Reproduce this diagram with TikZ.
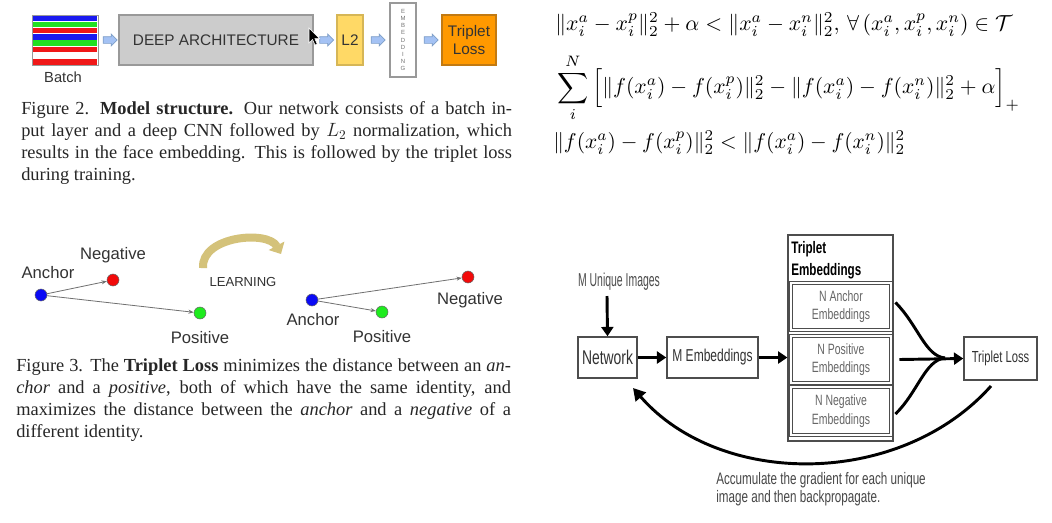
\documentclass[tikz,border=0pt]{standalone}
\usepackage[no-math]{fontspec}
\usepackage{graphicx}
\setmainfont{Liberation Serif}
\newfontfamily\arialf{Liberation Sans}
\newfontfamily\narrowf[FakeStretch=0.7]{Liberation Sans}
\newfontfamily\vnarrowf[FakeStretch=0.56]{Liberation Sans}
\usetikzlibrary{shapes.arrows,arrows.meta,calc}
\definecolor{txt}{HTML}{333333}
\definecolor{sb}{HTML}{1A1AF0}
\definecolor{sg}{HTML}{22E022}
\definecolor{sr}{HTML}{F01818}
\definecolor{arrowfill}{HTML}{A4C2F4}
\definecolor{arrowborder}{HTML}{7F9FC8}
\definecolor{deepfill}{HTML}{CCCCCC}
\definecolor{deepborder}{HTML}{999999}
\definecolor{lfill}{HTML}{FFD966}
\definecolor{lborder}{HTML}{D6B656}
\definecolor{ofill}{HTML}{FF9900}
\definecolor{oborder}{HTML}{C27A12}
\definecolor{learncol}{HTML}{D4C27A}
\definecolor{arrgray}{HTML}{707070}
\definecolor{boxgray}{HTML}{4D4D4D}
\definecolor{innertxt}{HTML}{666666}
\definecolor{dblue}{HTML}{0A0AF5}
\definecolor{dred}{HTML}{F20A0A}
\definecolor{dgreen}{HTML}{1EEB1E}
\begin{document}
\begin{tikzpicture}[x=0.75pt,y=-0.75pt,
  blockarr/.style={single arrow, draw=arrowborder, fill=arrowfill,
    minimum height=10.5pt, single arrow head extend=2pt, inner sep=0pt, line width=0.5pt},
  topbox/.style={draw, rectangle, line width=0.8pt, inner sep=0pt, align=center,
    font=\arialf\fontsize{11.5}{13.5}\selectfont, text=txt},
  dot/.style={circle, minimum size=9pt, inner sep=0pt, draw=black!60, line width=0.4pt},
  lbl/.style={font=\arialf\fontsize{12.5}{14}\selectfont, text=txt, inner sep=0pt},
  thinarr/.style={draw=arrgray, line width=0.6pt, -{Stealth[length=4pt,width=3pt]}},
  rbox/.style={draw=boxgray, line width=1.1pt, inner sep=0pt, rectangle, align=center, text=txt},
  dbox/.style={draw=boxgray, double=white, double distance=0.9pt, line width=0.7pt,
    inner sep=0pt, rectangle, align=center, text=innertxt,
    font=\narrowf\fontsize{11.2}{14}\selectfont, minimum width=75pt},
  bigarr/.style={line width=2.2pt, -{Triangle[length=7pt,width=9pt]}},
  caption/.style={anchor=north west, inner sep=0pt, text width=368pt, align=justify,
    font=\fontsize{13.8}{16.5}\selectfont, text=black!85}
]
\fill[white] (0,0) rectangle (1052,522);
\useasboundingbox (0,0) rectangle (1052,522);

% ---------------- Figure 2 ----------------
\foreach \c [count=\i from 0] in {sb,sg,sr,sb,sg,sr,white,sr}
  \fill[\c] (33,{15.3+\i*6.25}) rectangle (97,{15.3+\i*6.25+5.6});
\node[draw=deepborder, line width=0.6pt, minimum width=49.5pt, minimum height=37.5pt, inner sep=0pt] (batch) at (65,40) {};
\node[lbl, font=\arialf\fontsize{11}{13}\selectfont] (batchlbl) at (63,77) {Batch};
\node[topbox, draw=deepborder, fill=deepfill, minimum width=145.5pt, minimum height=37.5pt] (deep) at (216,40) {DEEP ARCHITECTURE};
\node[topbox, draw=lborder, fill=lfill, minimum width=19.5pt, minimum height=37.5pt] (l2) at (350,40) {L2};
\node[topbox, draw=deepborder, fill=white, minimum width=19.5pt, minimum height=55.5pt,
  font=\arialf\fontsize{4.5}{5.4}\selectfont, text=black!55] (emb) at (403,40) {E\\M\\B\\E\\D\\D\\I\\N\\G};
\node[topbox, draw=oborder, fill=ofill, minimum width=40.5pt, minimum height=37.5pt] (tl) at (469,40) {Triplet\\Loss};
\node[blockarr] (a1) at (108.5,40) {\rule{0pt}{4.5pt}};
\node[blockarr] (a2) at (325,40) {\rule{0pt}{4.5pt}};
\node[blockarr] (a3) at (376.5,40) {\rule{0pt}{4.5pt}};
\node[blockarr] (a4) at (429.5,40) {\rule{0pt}{4.5pt}};
% mouse pointer
\filldraw[fill=black, draw=white, line width=0.4pt] (309,28) -- (309,43) -- (312.5,39.5) -- (315,45) -- (317.2,44) -- (314.8,38.6) -- (319.5,38.6) -- cycle;

\node[caption] (cap2) at (21,101) {Figure 2. \textbf{Model structure.} Our network consists of a batch in-\linebreak
put layer and a deep CNN followed by $L_2$ normalization, which\linebreak
results in the face embedding. This is followed by the triplet loss\linebreak
during training.};

% ---------------- Equations ----------------
\node[anchor=west, inner sep=0pt] (eq1) at (555,25)
  {\resizebox{343pt}{!}{$\|x_i^a-x_i^p\|_2^2+\alpha<\|x_i^a-x_i^n\|_2^2,\,\forall\,(x_i^a,x_i^p,x_i^n)\in\mathcal{T}$}};
\node[anchor=west, inner sep=0pt] (eq2) at (557,88)
  {\resizebox{347pt}{!}{$\displaystyle\sum_i^N\Big[\|f(x_i^a)-f(x_i^p)\|_2^2-\|f(x_i^a)-f(x_i^n)\|_2^2+\alpha\Big]_+$}};
\node[anchor=west, inner sep=0pt] (eq3) at (553,143)
  {\resizebox{264pt}{!}{$\|f(x_i^a)-f(x_i^p)\|_2^2<\|f(x_i^a)-f(x_i^n)\|_2^2$}};

% ---------------- Figure 3 ----------------
\node[dot, fill=dblue] (an1) at (41,295) {};
\node[dot, fill=dred] (ne1) at (113,280) {};
\node[dot, fill=dgreen] (po1) at (200,313) {};
\node[lbl] (an1l) at (48,273) {Anchor};
\node[lbl] (ne1l) at (113,255) {Negative};
\node[lbl] (po1l) at (200,338) {Positive};
\draw[thinarr] (an1) -- (ne1);
\draw[thinarr] (an1) -- (po1);

\coordinate (ls) at (203,268);
\coordinate (le) at (281,254);
\draw[learncol, line width=6pt, -{Triangle[length=7pt,width=13pt]}] (ls) .. controls (201,236) and (268,230) .. (le);
\node[lbl, font=\arialf\fontsize{9.8}{12}\selectfont] (learn) at (243,282) {LEARNING};

\node[dot, fill=dblue] (an2) at (312,300) {};
\node[dot, fill=dgreen] (po2) at (382,312) {};
\node[dot, fill=dred] (ne2) at (468,277) {};
\node[lbl] (an2l) at (313,320) {Anchor};
\node[lbl] (po2l) at (382,337) {Positive};
\node[lbl] (ne2l) at (470,300) {Negative};
\draw[thinarr] (an2) -- (ne2);
\draw[thinarr] (an2) -- (po2);

\node[caption, text width=371pt] (cap3) at (16,358) {Figure 3. The \textbf{Triplet Loss} minimizes the distance between an \textit{an-}\linebreak
\textit{chor} and a \textit{positive}, both of which have the same identity, and\linebreak
maximizes the distance between the \textit{anchor} and a \textit{negative} of a\linebreak
different identity.};

% ---------------- Right diagram ----------------
\node[inner sep=0pt, text=black!70, font=\vnarrowf\fontsize{14}{16}\selectfont] (mui) at (619,282) {M Unique Images};
\node[rbox, minimum width=44.25pt, minimum height=30.75pt, font=\narrowf\fontsize{14.9}{16}\selectfont] (net) at (607.5,357.5) {Network};
\node[rbox, minimum width=68.25pt, minimum height=30.75pt, font=\narrowf\fontsize{12.9}{15}\selectfont] (memb) at (712.5,357.5) {M Embeddings};
\node[rbox, line width=0.9pt, minimum width=78.75pt, minimum height=154.5pt] (outer) at (840.5,338) {};
\node[anchor=north west, inner sep=0pt, align=left, text=black, font=\narrowf\bfseries\fontsize{12.5}{16.5}\selectfont] (ttl) at (791,241) {Triplet\\Embeddings};
\node[dbox, minimum height=35.25pt] (anc) at (841,306.5) {N Anchor\\Embeddings};
\node[dbox, minimum height=35.25pt] (pos) at (841,359.5) {N Positive\\Embeddings};
\node[dbox, minimum height=36pt] (neg) at (841,411) {N Negative\\Embeddings};
\node[rbox, minimum width=54.75pt, minimum height=32.25pt, font=\narrowf\fontsize{12}{14}\selectfont] (tloss) at (1000.5,358.5) {Triplet Loss};

\coordinate (dtop) at (607,296);
\draw[bigarr] (dtop) -- (net.north);
\draw[bigarr] (net) -- (memb);
\draw[bigarr] (memb.east) -- (memb.east -| outer.west);

\coordinate (meet) at (945,358);
\draw[line width=2.2pt] ($(anc.east)+(4,-4)$) .. controls (918,325) and (925,356) .. (meet);
\draw[line width=2.2pt] ($(neg.east)+(4,3)$) .. controls (918,392) and (925,360) .. (meet);
\draw[bigarr] ($(pos.east)+(8,0)$) -- (tloss.west);

\coordinate (bs) at (991,386);
\coordinate (be) at (633,388);
\draw[bigarr, -{Triangle[length=9pt,width=10pt]}] (bs) .. controls (900,488) and (720,488) .. (be);

\node[anchor=north west, inner sep=0pt, align=left, text=black!72, font=\narrowf\fontsize{12.5}{13.6}\selectfont] (acc) at (716,472) {Accumulate the gradient for each unique\\image and then backpropagate.};
\end{tikzpicture}
\end{document}
